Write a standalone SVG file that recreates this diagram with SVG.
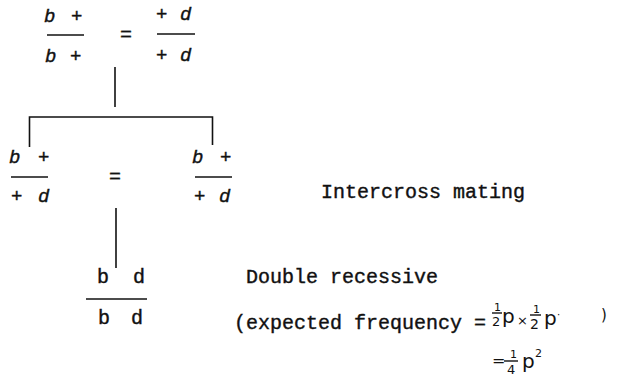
<svg xmlns="http://www.w3.org/2000/svg" width="617" height="378" viewBox="0 0 617 378">
<style>
.t{font-family:"Liberation Mono","Courier New",monospace;font-size:20px;fill:#111;stroke:#111;stroke-width:0.4}
.f{font-family:"Liberation Mono","Courier New",monospace;font-size:19px;fill:#111;stroke:#111;stroke-width:0.4}
.i{font-style:italic}
.h{font-family:"DejaVu Sans","Noto Sans",sans-serif;fill:#111}
.ln{stroke:#111;stroke-width:1.6;fill:none}
.bar{stroke:#111;stroke-width:1.4}
</style>
<rect width="617" height="378" fill="#fff"/>
<g id="connectors">
<line class="ln" x1="115" y1="67" x2="115" y2="107"/>
<polyline class="ln" points="29.5,147 29.5,117 212.5,117 212.5,145"/>
<line class="ln" x1="116" y1="208" x2="116" y2="268"/>
</g>
<g id="parent-left">
<text class="f" y="22"><tspan class="i" x="44">b</tspan><tspan x="71">+</tspan></text>
<line class="bar" x1="47" y1="35" x2="84" y2="35"/>
<text class="f" y="62"><tspan class="i" x="45">b</tspan><tspan x="70">+</tspan></text>
</g>
<g id="parent-eq"><text class="t" x="120" y="41">=</text></g>
<g id="parent-right">
<text class="f" y="20"><tspan x="156">+</tspan><tspan class="i" x="180">d</tspan></text>
<line class="bar" x1="157" y1="34" x2="195" y2="34"/>
<text class="f" y="61"><tspan x="156">+</tspan><tspan class="i" x="180">d</tspan></text>
</g>
<g id="f1-left">
<text class="f" y="163"><tspan class="i" x="9">b</tspan><tspan x="38">+</tspan></text>
<line class="bar" x1="11" y1="177" x2="48" y2="177"/>
<text class="f" y="202"><tspan x="11">+</tspan><tspan class="i" x="38">d</tspan></text>
</g>
<g id="f1-eq"><text class="t" x="109" y="183">=</text></g>
<g id="f1-right">
<text class="f" y="163"><tspan class="i" x="192">b</tspan><tspan x="220">+</tspan></text>
<line class="bar" x1="195" y1="177" x2="232" y2="177"/>
<text class="f" y="202"><tspan x="194">+</tspan><tspan class="i" x="219">d</tspan></text>
</g>
<g id="label-intercross"><text class="t" x="321" y="198">Intercross mating</text></g>
<g id="double-recessive">
<text class="t" y="283"><tspan x="97">b</tspan><tspan x="133">d</tspan></text>
<line class="bar" x1="86" y1="299" x2="147" y2="299"/>
<text class="t" y="324"><tspan x="98">b</tspan><tspan x="131">d</tspan></text>
</g>
<g id="label-double"><text class="t" x="246" y="283">Double recessive</text></g>
<g id="label-frequency">
<text class="t" x="234" y="329">(expected frequency =</text>
<g class="h">
<text x="494" y="311" font-size="11">1</text>
<line class="bar" x1="492" y1="313" x2="502" y2="313" stroke-width="1"/>
<text x="492" y="326" font-size="13">2</text>
<text x="502" y="323" font-size="20">p</text>
<text x="517" y="325" font-size="13">×</text>
<text x="533" y="313" font-size="11">1</text>
<line class="bar" x1="530" y1="315" x2="541" y2="315" stroke-width="1"/>
<text x="530" y="329" font-size="14">2</text>
<text x="544" y="325" font-size="20">p</text>
<text x="557" y="318" font-size="10">·</text>
<text x="601" y="320" font-size="15">)</text>
<text x="492" y="366" font-size="16">=</text>
<line class="bar" x1="504" y1="361" x2="518" y2="361" stroke-width="1"/>
<text x="510" y="358" font-size="11">1</text>
<text x="507" y="374" font-size="13">4</text>
<text x="522" y="368" font-size="20">p</text>
<text x="535" y="357" font-size="11">2</text>
</g>
</g>
</svg>
